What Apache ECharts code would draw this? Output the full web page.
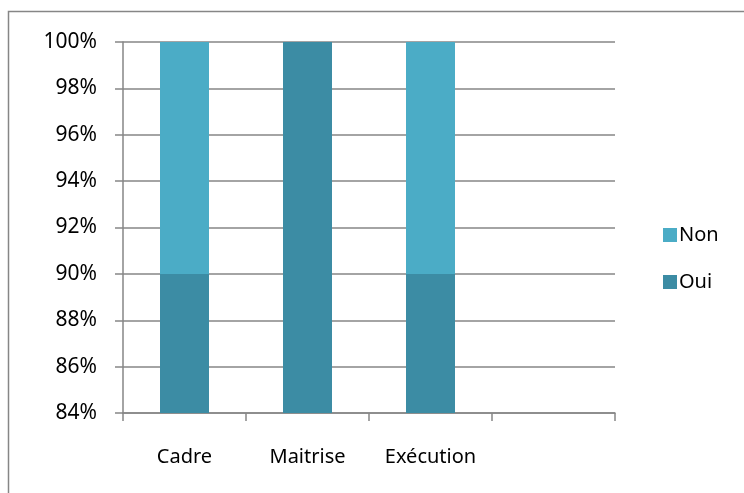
<!DOCTYPE html>
<html><head><meta charset="utf-8">
<script src="https://cdn.jsdelivr.net/npm/echarts@6/dist/echarts.min.js"></script>
<style>html,body{margin:0;padding:0;background:#fff}#c{width:744px;height:493px}</style>
</head><body><div id="c"></div>
<script>
const categories = ['Cadre', 'Maitrise', 'Exécution', ''];
const oui = [90, 100, 90, null];
const non = [10, 0, 10, null];
const yMin = 84, yMax = 100, yStep = 2;

const font = '"Noto Sans", "Open Sans", sans-serif';
const chart = echarts.init(document.getElementById('c'), null, {renderer: 'canvas'});
chart.setOption({
  animation: false,
  graphic: [{type: 'rect', shape: {x: 8.5, y: 11.5, width: 900, height: 700}, style: {fill: 'none', stroke: '#868686', lineWidth: 1.5}, silent: true, z: -1}],
  grid: {left: 123, right: 129, top: 42, bottom: 80},
  legend: {
    orient: 'vertical', left: 658, top: 220, itemWidth: 14, itemHeight: 14, itemGap: 27,
    data: ['Non', 'Oui'], textStyle: {fontFamily: font, fontSize: 20, color: '#000', padding: [0, 0, 0, -3]}, icon: 'rect'
  },
  xAxis: {
    type: 'category', data: categories,
    axisLine: {lineStyle: {color: '#868686', width: 1.5}},
    axisTick: {show: true, interval: 0, length: 8, lineStyle: {color: '#868686', width: 1.5}},
    axisLabel: {interval: 0, margin: 34, fontFamily: font, fontSize: 20, color: '#000'}
  },
  yAxis: {
    type: 'value', min: yMin, max: yMax, interval: yStep,
    axisLine: {show: true, lineStyle: {color: '#868686', width: 1.5}},
    axisTick: {show: true, length: 8, lineStyle: {color: '#868686', width: 1.5}},
    splitLine: {lineStyle: {color: '#868686', width: 1.5}},
    axisLabel: {margin: 26, formatter: v => v + '%', fontFamily: font, fontSize: 21, color: '#000'}
  },
  series: [
    {name: 'Oui', type: 'bar', stack: 's', data: oui, barWidth: 49, itemStyle: {color: '#3C8CA4'}},
    {name: 'Non', type: 'bar', stack: 's', data: non, barWidth: 49, itemStyle: {color: '#4BACC6'}}
  ]
});
</script></body></html>
